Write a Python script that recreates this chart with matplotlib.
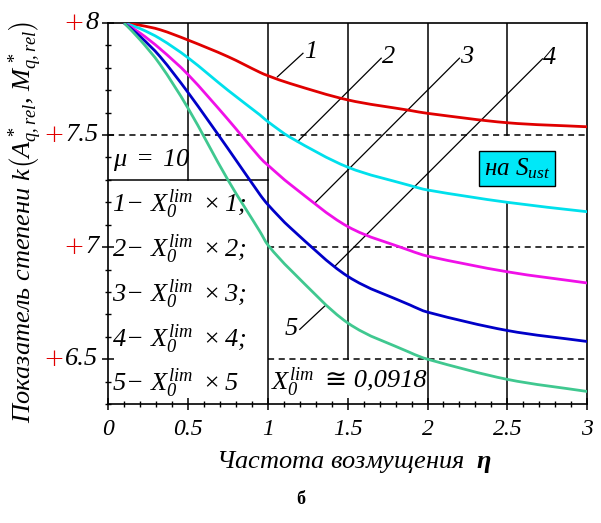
import matplotlib.pyplot as plt
from matplotlib.path import Path
from matplotlib.patches import PathPatch
from matplotlib.ticker import MultipleLocator

plt.rcParams['font.family'] = ['Liberation Serif', 'DejaVu Serif']
plt.rcParams['font.style'] = 'italic'
plt.rcParams['mathtext.fontset'] = 'custom'
plt.rcParams['mathtext.rm'] = 'Liberation Serif:italic'
plt.rcParams['mathtext.it'] = 'Liberation Serif:italic'
plt.rcParams['mathtext.bf'] = 'Liberation Serif:bold:italic'

# Частота возмущения и кривые показателя степени для X0lim x1 ... x5
eta = [0.1, 0.2, 0.325, 0.5, 0.75, 0.95, 1.0, 1.14, 1.5, 1.89, 2.0, 2.5, 3.0]
k1 = [8.0, 7.99, 7.97, 7.924, 7.85, 7.78, 7.765, 7.73, 7.657, 7.61, 7.597, 7.555, 7.537]
k2 = [8.0, 7.975, 7.93, 7.845, 7.70, 7.59, 7.56, 7.49, 7.357, 7.275, 7.255, 7.20, 7.158]
k3 = [8.0, 7.955, 7.885, 7.77, 7.57, 7.40, 7.366, 7.28, 7.092, 6.985, 6.96, 6.89, 6.84]
k4 = [8.0, 7.94, 7.85, 7.69, 7.44, 7.235, 7.19, 7.087, 6.87, 6.742, 6.71, 6.628, 6.579]
k5 = [8.0, 7.925, 7.815, 7.62, 7.30, 7.07, 7.01, 6.90, 6.662, 6.53, 6.50, 6.41, 6.356]

curves = [k1, k2, k3, k4, k5]
colors = ['#e00000', '#00e0ec', '#f010e8', '#0000c8', '#40c890']

# выноски: точка на кривой -> положение номера
leader_from = [(1.06, 7.76), (1.185, 7.47), (1.295, 7.197), (1.42, 6.915), (1.356, 6.737)]
leader_to = [(1.22, 7.865), (1.71, 7.843), (2.20, 7.843), (2.72, 7.84), (1.20, 6.633)]
curve_names = ['1', '2', '3', '4', '5']

yticks = [6.5, 7.0, 7.5, 8.0]
ytick_labels = ['6.5', '7', '7.5', '8']
xticks = [0, 0.5, 1, 1.5, 2, 2.5, 3]
xtick_labels = ['0', '0.5', '1', '1.5', '2', '2.5', '3']


def smooth_path(xs, ys):
    # кубическая эрмитова кривая через узлы, касательные по соседям
    n = len(xs)
    m = []
    for i in range(n):
        a, b = max(i - 1, 0), min(i + 1, n - 1)
        m.append((ys[b] - ys[a]) / (xs[b] - xs[a]))
    verts = [(xs[0], ys[0])]
    codes = [Path.MOVETO]
    for i in range(n - 1):
        h = xs[i + 1] - xs[i]
        verts += [(xs[i] + h / 3, ys[i] + m[i] * h / 3),
                  (xs[i + 1] - h / 3, ys[i + 1] - m[i + 1] * h / 3),
                  (xs[i + 1], ys[i + 1])]
        codes += [Path.CURVE4] * 3
    return Path(verts, codes)


fig = plt.figure(figsize=(6.01, 5.23), dpi=100)
ax = fig.add_axes([0.18, 0.2275, 0.797, 0.7285])

ax.set_xlim(0, 3)
ax.set_ylim(6.3, 8.0)

# сетка-рамка
solid = dict(color='k', lw=1.1, zorder=1)
dashed = dict(color='k', lw=1.1, ls=(0, (4, 3)), zorder=1)
ax.plot([0.5, 0.5], [8.0, 7.3], **solid)
ax.plot([0, 1], [7.3, 7.3], **solid)
ax.plot([1, 1], [8.0, 6.3], **solid)
ax.plot([1.5, 1.5], [8.0, 6.5], **solid)
ax.plot([2, 2], [8.0, 6.3], **solid)
ax.plot([2.5, 2.5], [8.0, 7.5], **solid)
ax.plot([2.5, 2.5], [7.2, 6.3], **solid)
ax.plot([0, 3], [7.5, 7.5], **dashed)
ax.plot([1, 3], [7.0, 7.0], **dashed)
ax.plot([1, 3], [6.5, 6.5], **dashed)

for k, c in zip(curves, colors):
    ax.add_patch(PathPatch(smooth_path(eta, k), fill=False, edgecolor=c, lw=2.0, zorder=3))

for (x0, y0), (x1, y1), name in zip(leader_from, leader_to, curve_names):
    ax.plot([x0, x1], [y0, y1], color='k', lw=0.9, zorder=2)
    if name == '5':
        ax.text(x1 - 0.01, y1, name, ha='right', va='center', fontsize=19)
    else:
        ax.text(x1 + 0.005, y1 + 0.005, name, ha='left', va='center', fontsize=19)

ax.text(0.03, 7.39, r'$\mu\;=\;10$', ha='left', va='center', fontsize=19)
for i, yl in enumerate([7.19, 6.99, 6.79, 6.59, 6.39]):
    end = ';' if i < 4 else ''
    ax.text(0.025, yl, r'$%d\!-\!\ X_0^{lim}\ \times %d%s$' % (i + 1, i + 1, end),
            ha='left', va='center', fontsize=19)
ax.text(1.02, 6.395, r'$X_0^{lim}$', ha='left', va='center', fontsize=19)
ax.text(1.36, 6.405, '≅ 0,0918', ha='left', va='center', fontsize=19,
        family=['Liberation Serif', 'DejaVu Sans'])

ax.text(2.56, 7.35, r'на $S_{ust}$', ha='center', va='center', fontsize=18,
        bbox=dict(facecolor='#00e8f8', edgecolor='k', lw=1.0, boxstyle='square,pad=0.2'))

# оси и деления
for s in ax.spines.values():
    s.set_linewidth(1.2)
ax.set_xticks(xticks)
ax.set_xticklabels(xtick_labels, fontsize=17)
ax.xaxis.set_minor_locator(MultipleLocator(0.1))
ax.set_yticks(yticks)
ax.set_yticklabels([])
ax.yaxis.set_minor_locator(MultipleLocator(0.1))
ax.tick_params(which='major', direction='inout', length=9, width=1.1, pad=6)
ax.tick_params(which='minor', direction='inout', length=5, width=1.0)

for y, lab in zip(yticks, ytick_labels):
    t = ax.annotate(lab, xy=(0, y), xycoords=('axes fraction', 'data'),
                    xytext=(-7, 0), textcoords='offset points',
                    ha='right', va='center', fontsize=19)
    ax.annotate('+', xy=(0, 0.5), xycoords=t, xytext=(-1, 0),
                textcoords='offset points', ha='right', va='center',
                fontsize=18, color='#e00000', family='DejaVu Sans',
                style='normal', weight='light')

fig.text(0.59, 0.117, r'Частота возмущения  $\mathbf{\eta}$', ha='center', va='center', fontsize=19)
fig.text(0.042, 0.575, r'Показатель степени $k\left(A^*_{q,rel},\, M^*_{q,rel}\right)$',
         ha='center', va='center', rotation=90, fontsize=19)
fig.text(0.5, 0.045, 'б', ha='center', va='center', fontsize=13, weight='bold', style='normal')

fig.savefig('out.png', dpi=100)
